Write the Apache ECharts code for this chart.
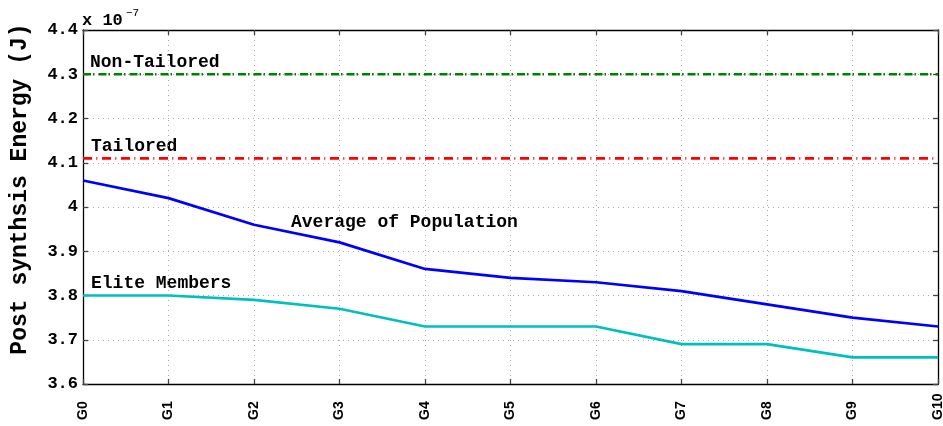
<!DOCTYPE html>
<html><head><meta charset="utf-8">
<script src="https://cdn.jsdelivr.net/npm/echarts@6/dist/echarts.min.js"></script>
<style>html,body{margin:0;padding:0;background:#fff}#c{width:943px;height:426px}</style>
</head><body><div id="c"></div>
<script>
const categories = ['G0','G1','G2','G3','G4','G5','G6','G7','G8','G9','G10'];
const averageOfPopulation = [4.06,4.02,3.96,3.92,3.86,3.84,3.83,3.81,3.78,3.75,3.73];
const eliteMembers = [3.80,3.80,3.79,3.77,3.73,3.73,3.73,3.69,3.69,3.66,3.66];
const nonTailoredValue = 4.30;
const tailoredValue = 4.11;
const yTicks = ['3.6','3.7','3.8','3.9','4','4.1','4.2','4.3','4.4'];

const font = '"Liberation Mono", "DejaVu Sans Mono", monospace';
const sans = '"Liberation Sans", Arial, sans-serif';
const chart = echarts.init(document.getElementById('c'));
const flat = v => categories.map(() => v);
chart.setOption({
  animation: false,
  grid: {left: 83, right: 5, top: 30, bottom: 42, show: false, outerBoundsMode: 'none', containLabel: false},
  xAxis: [{
    type: 'category', data: categories, boundaryGap: false,
    axisLine: {lineStyle: {color: '#000', width: 1.3}},
    axisTick: {inside: true, length: 5, lineStyle: {color: '#444', width: 1.3}},
    axisLabel: {rotate: 90, align: 'left', fontFamily: sans, fontWeight: 'bold', fontSize: 14, color: '#000', margin: 36},
    splitLine: {show: true, lineStyle: {color: '#aaa', type: [1, 4], width: 1}}
  },{
    type: 'category', data: categories, boundaryGap: false, position: 'top',
    axisLine: {lineStyle: {color: '#000', width: 1.3}},
    axisTick: {inside: true, length: 5, lineStyle: {color: '#444', width: 1.3}},
    axisLabel: {show: false}
  }],
  yAxis: [{
    type: 'value', min: 3.6, max: 4.4, interval: 0.1,
    axisLine: {show: true, lineStyle: {color: '#000', width: 1.3}},
    axisTick: {show: true, inside: true, length: 5, lineStyle: {color: '#444', width: 1.3}},
    axisLabel: {fontFamily: font, fontWeight: 'bold', fontSize: 17, color: '#000', margin: 5,
      formatter: (v) => yTicks[Math.round((v - 3.6) * 10)]},
    splitLine: {show: true, lineStyle: {color: '#aaa', type: [1, 4], width: 1}}
  },{
    type: 'value', min: 3.6, max: 4.4, interval: 0.1, position: 'right',
    axisLine: {show: true, lineStyle: {color: '#000', width: 1.3}},
    axisTick: {show: true, inside: true, length: 5, lineStyle: {color: '#444', width: 1.3}},
    axisLabel: {show: false}, splitLine: {show: false}
  }],
  series: [
    {type: 'line', data: flat(nonTailoredValue), symbol: 'none', z: 3,
     lineStyle: {color: '#008000', width: 2.7, type: [8, 2, 1.5, 4]}},
    {type: 'line', data: flat(tailoredValue), symbol: 'none', z: 3,
     lineStyle: {color: '#ff0000', width: 2.8, type: [9, 4.3, 1, 4.7]}},
    {type: 'line', data: averageOfPopulation, symbol: 'none', z: 4,
     lineStyle: {color: '#0000ff', width: 2.7}},
    {type: 'line', data: eliteMembers, symbol: 'none', z: 4,
     lineStyle: {color: '#00bfbf', width: 2.7}}
  ],
  graphic: [
    {type: 'text', x: 20, y: 189, rotation: Math.PI / 2, style: {
      text: 'Post synthsis Energy (J)', font: 'bold 23px ' + font, fill: '#000',
      align: 'center', verticalAlign: 'middle'}},
    {type: 'text', x: 82, y: 21, style: {text: 'x 10', font: 'bold 17px ' + font, fill: '#000', verticalAlign: 'middle'}},
    {type: 'text', x: 126, y: 13, style: {text: '−7', font: '11px ' + font, fill: '#000', verticalAlign: 'middle'}},
    {type: 'text', x: 90, y: 62, style: {text: 'Non-Tailored', font: 'bold 18px ' + font, fill: '#000', verticalAlign: 'middle'}},
    {type: 'text', x: 91, y: 146, style: {text: 'Tailored', font: 'bold 18px ' + font, fill: '#000', verticalAlign: 'middle'}},
    {type: 'text', x: 291, y: 222, style: {text: 'Average of Population', font: 'bold 18px ' + font, fill: '#000', verticalAlign: 'middle'}},
    {type: 'text', x: 91, y: 283, style: {text: 'Elite Members', font: 'bold 18px ' + font, fill: '#000', verticalAlign: 'middle'}}
  ]
});
</script></body></html>
